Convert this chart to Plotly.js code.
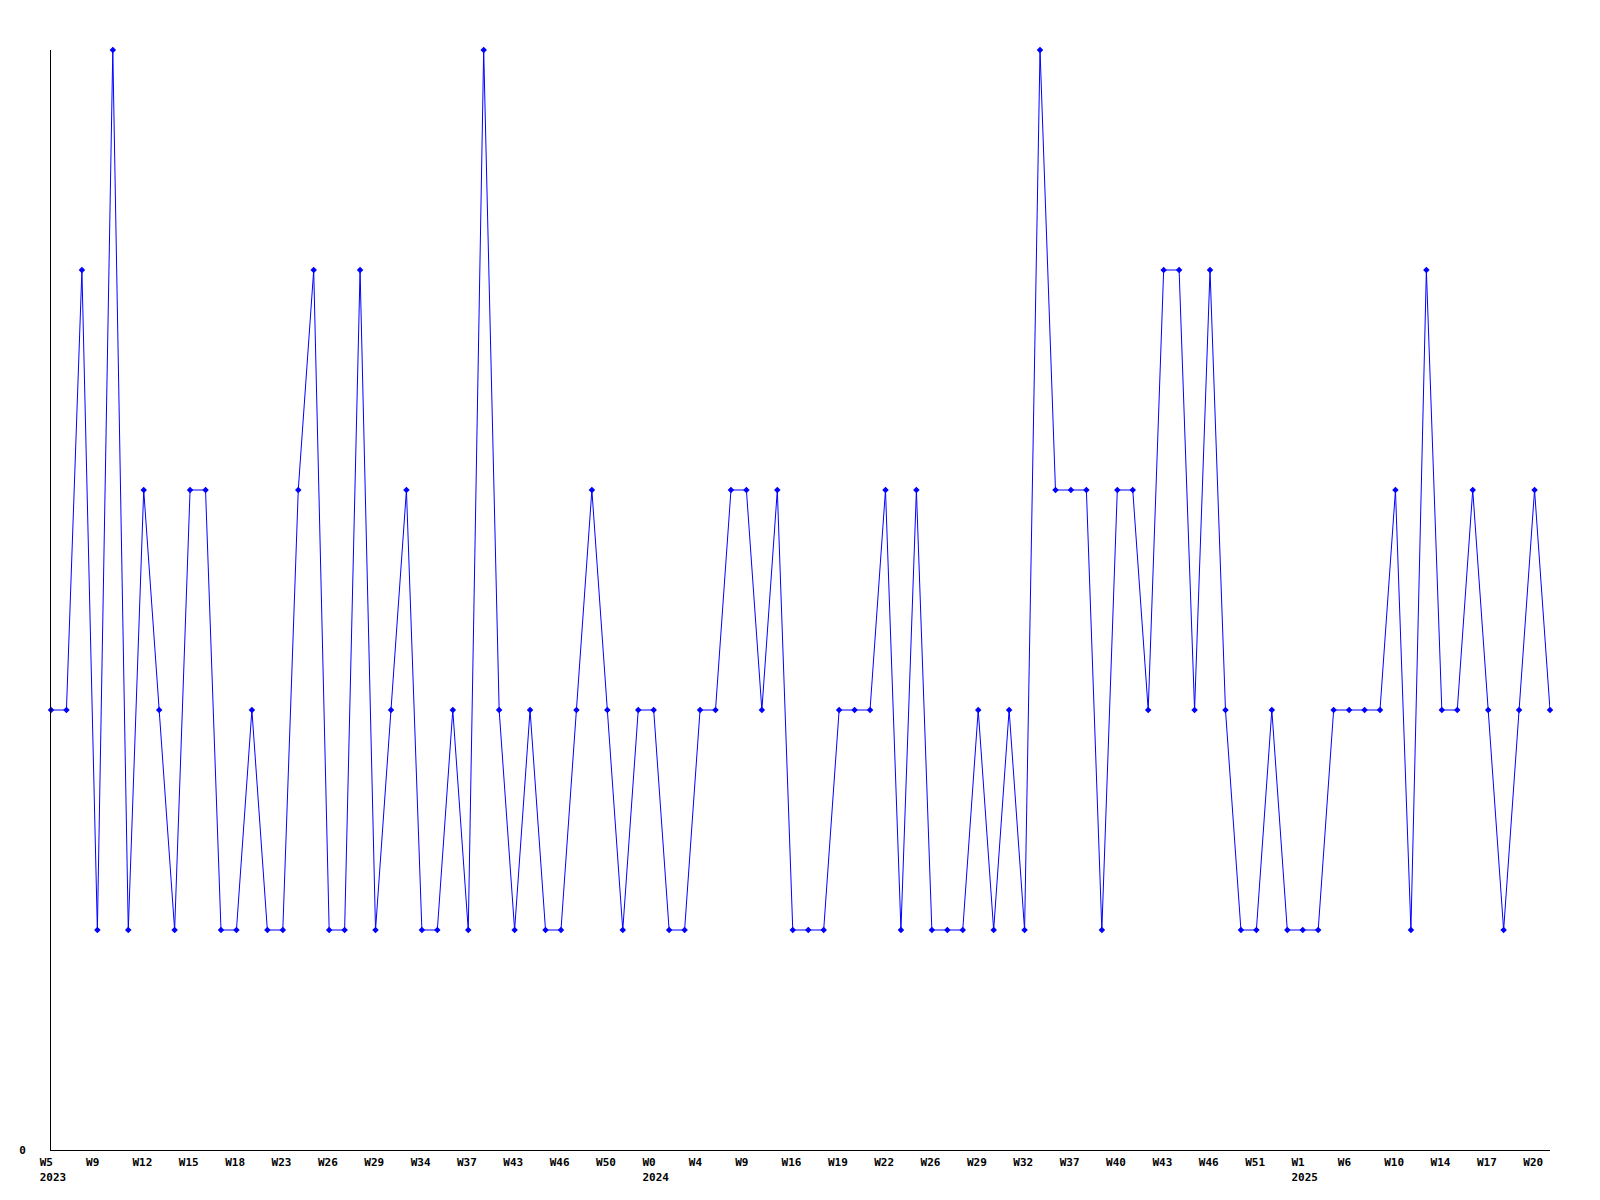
<!DOCTYPE html>
<html>
<head>
<meta charset="utf-8">
<script src="https://cdn.plot.ly/plotly-3.0.1.min.js"></script>
<style>html,body{margin:0;padding:0;background:#fff;}#chart{width:1600px;height:1200px;}</style>
</head>
<body>
<div id="chart"></div>
<script>
// Series values, one per point, in order
const values = [
  2,2,4,1,5,1,3,2,1,3,
  3,1,1,2,1,1,3,4,1,1,
  4,1,2,3,1,1,2,1,5,2,
  1,2,1,1,2,3,2,1,2,2,
  1,1,2,2,3,3,2,3,1,1,
  1,2,2,2,3,1,3,1,1,1,
  2,1,2,1,5,3,3,3,1,3,
  3,2,4,4,2,4,2,1,1,2,
  1,1,1,2,2,2,2,3,1,4,
  2,2,3,2,1,2,3,2
];
// Tick labels shown every third point
const tickLabels = [
  "W5<br>2023","W9","W12","W15","W18","W23","W26","W29","W34","W37","W43",
  "W46","W50","W0<br>2024","W4","W9","W16","W19","W22","W26","W29","W32",
  "W37","W40","W43","W46","W51","W1<br>2025","W6","W10","W14","W17","W20"
];
const tickStep = 3;

const xIdx = values.map((_, i) => i);
const tickVals = tickLabels.map((_, i) => i * tickStep);
// pad labels to 4 characters so centred labels appear left-aligned
const pad = s => s.split("<br>").map(p => p + "\u00a0".repeat(Math.max(0, 4 - p.length))).join("<br>");
const tickText = tickLabels.map(pad);

const trace = {
  x: xIdx,
  y: values,
  type: "scatter",
  mode: "lines+markers",
  line: {color: "#0000ff", width: 1},
  marker: {color: "#0000ff", size: 5, symbol: "diamond", line: {width: 0}},
  cliponaxis: false,
  hoverinfo: "skip"
};

const font = {family: "DejaVu Sans Mono, monospace", size: 11, color: "#000"};

const layout = {
  width: 1600,
  height: 1200,
  margin: {l: 51, r: 50, t: 50, b: 50, pad: 0},
  paper_bgcolor: "#fff",
  plot_bgcolor: "#fff",
  showlegend: false,
  font: font,
  xaxis: {
    range: [0, values.length - 1],
    tickmode: "array",
    tickvals: tickVals,
    ticktext: tickText.map(t => "<b>" + t.replace("<br>", "</b><br><b>") + "</b>"),
    tickangle: 0,
    ticks: "",
    showgrid: false,
    zeroline: false,
    showline: true,
    linecolor: "#000",
    linewidth: 1,
    ticklabelshift: 2,
    ticklabelstandoff: 2,
    tickfont: font
  },
  yaxis: {
    range: [0, 5],
    tickmode: "array",
    tickvals: [0],
    ticktext: ["<b>0</b>"],
    ticks: "",
    showgrid: false,
    zeroline: false,
    showline: true,
    linecolor: "#000",
    linewidth: 1,
    ticklabelstandoff: 22,
    tickfont: font
  }
};

Plotly.newPlot("chart", [trace], layout, {displayModeBar: false, staticPlot: true});
</script>
</body>
</html>
